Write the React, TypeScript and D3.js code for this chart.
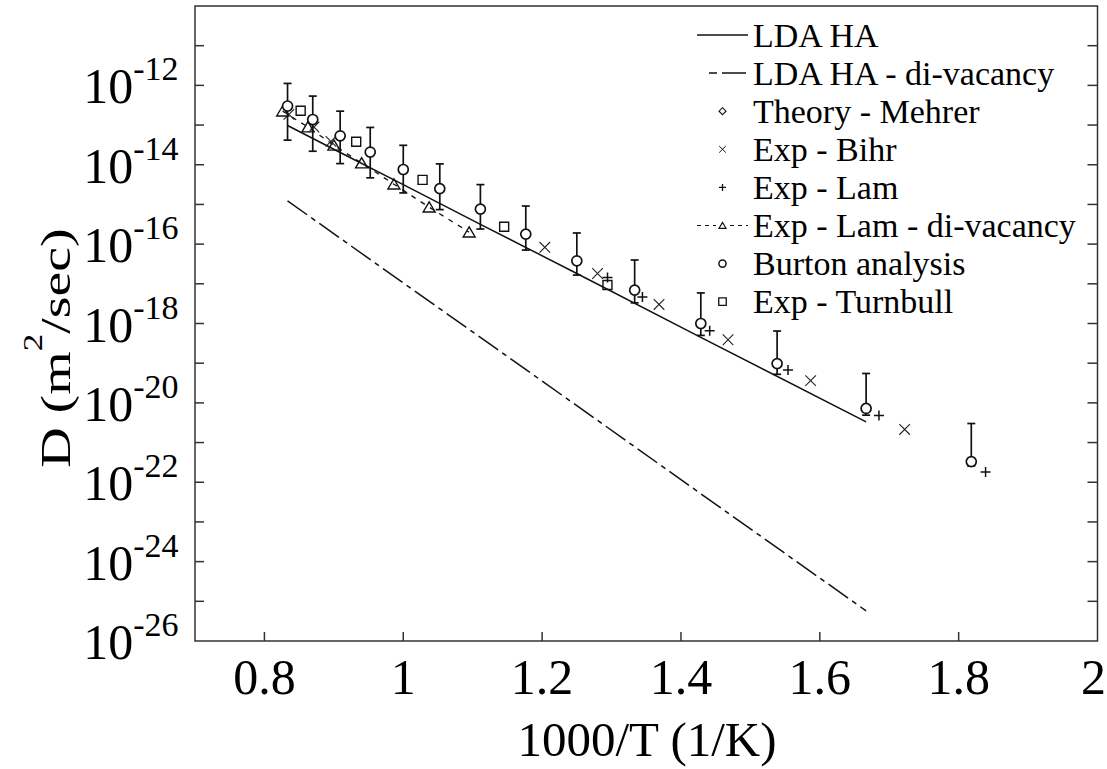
import React from 'react';
import * as d3 from 'd3';

// 1000/T values (1/K)
const modelX = [0.8333, 0.9091, 1.0, 1.1111, 1.25, 1.4286, 1.6667];
const ldaHA = [9.77e-14, 2.04e-14, 3.16e-15, 3.16e-16, 1.82e-17, 4.47e-19, 3.31e-21];
const ldaHADiVac = [1.23e-15, 1.41e-16, 1.05e-17, 4.47e-19, 8.51e-21, 5.13e-23, 5.75e-26];

const lamDiVacX = [0.8263, 0.8627, 0.9001, 0.94, 0.9865, 1.0373, 1.0949];
const lamDiVac = [2.24e-13, 8.91e-14, 3.09e-14, 1.1e-14, 3.24e-15, 8.51e-16, 2.0e-16];

const burtonX = [0.8333, 0.8696, 0.9091, 0.9524, 1.0, 1.0526, 1.1111, 1.1765, 1.25, 1.3333, 1.4286, 1.5385, 1.6667, 1.8182];
const burton = [3.02e-13, 1.38e-13, 5.37e-14, 2.09e-14, 7.59e-15, 2.51e-15, 7.59e-16, 1.78e-16, 3.8e-17, 6.92e-18, 1.0e-18, 9.77e-20, 7.24e-21, 3.31e-22];
const burtonHi = [1.12e-12, 5.37e-13, 2.24e-13, 8.71e-14, 3.09e-14, 1.05e-14, 3.16e-15, 9.12e-16, 1.91e-16, 3.98e-17, 5.89e-18, 6.46e-19, 5.5e-20, 3.02e-21];
const burtonLo = [4.17e-14, 2.19e-14, 1.07e-14, 4.68e-15, 1.95e-15, 7.41e-16, 2.4e-16, 7.08e-17, 1.66e-17, 3.31e-18, 5.01e-19, 5.25e-20, 4.9e-21, 2.57e-22];

const turnbullX = [0.8522, 0.9322, 1.0278, 1.1453, 1.2941];
const turnbull = [2.29e-13, 3.8e-14, 4.17e-15, 2.75e-16, 9.33e-18];

const bihrX = [0.8353, 0.8713, 0.8958, 1.2039, 1.2798, 1.3684, 1.4678, 1.5868, 1.7222];
const bihr = [1.86e-13, 8.91e-14, 3.89e-14, 8.32e-17, 1.82e-17, 3.02e-18, 3.89e-19, 3.63e-20, 2.14e-21];

const lamX = [1.2942, 1.3445, 1.4414, 1.5542, 1.6852, 1.8388];
const lam = [1.45e-17, 4.68e-18, 6.61e-19, 6.76e-20, 4.79e-21, 1.82e-22];

const xTicks = [0.8, 1, 1.2, 1.4, 1.6, 1.8, 2];
const yTickExps = d3.range(-25, -10);
const yLabelExps = [-12, -14, -16, -18, -20, -22, -24, -26];

const legendLabels = [
  'LDA HA',
  'LDA HA - di-vacancy',
  'Theory - Mehrer',
  'Exp - Bihr',
  'Exp - Lam',
  'Exp - Lam - di-vacancy',
  'Burton analysis',
  'Exp - Turnbull',
];

const FONT = '"Liberation Serif", "Times New Roman", serif';
const W = 1107;
const H = 769;
const L = 195, R = 1097.5, T = 6, B = 641;

const x = d3.scaleLinear().domain([0.7, 2.0]).range([L, R]);
const y = d3.scaleLog().domain([1e-26, 1e-10]).range([B, T]);

const tri = (cx: number, cy: number, s: number) =>
  `M${cx - s / 2},${cy + s * 0.4}L${cx + s / 2},${cy + s * 0.4}L${cx},${cy - s * 0.45}Z`;
const sq = (cx: number, cy: number, s: number) =>
  `M${cx - s / 2},${cy - s / 2}h${s}v${s}h${-s}Z`;
const times = (cx: number, cy: number, s: number) =>
  `M${cx - s},${cy - s}L${cx + s},${cy + s}M${cx - s},${cy + s}L${cx + s},${cy - s}`;
const plus = (cx: number, cy: number, s: number) =>
  `M${cx - s},${cy}L${cx + s},${cy}M${cx},${cy - s}L${cx},${cy + s}`;
const diamond = (cx: number, cy: number, s: number) =>
  `M${cx},${cy - s}L${cx + s},${cy}L${cx},${cy + s}L${cx - s},${cy}Z`;

export default function App() {
  const line = d3
    .line<number>()
    .x((_, i) => x(modelX[i]))
    .y((d) => y(d));
  const lamLine = d3
    .line<number>()
    .x((_, i) => x(lamDiVacX[i]))
    .y((d) => y(d));

  const legX0 = 697, legX1 = 748, legMid = 722.5, legText = 753;
  const legY = (i: number) => 35 + i * 38.1;

  return (
    <div style={{ position: 'absolute', left: 0, top: 0 }}>
      <svg width={W} height={H} style={{ display: 'block', background: '#fff' }} fontFamily={FONT}>
        <rect x={0} y={0} width={W} height={H} fill="#fff" />

        {/* model lines */}
        <path d={line(ldaHA) || ''} fill="none" stroke="#111" strokeWidth={1.5} />
        <path d={line(ldaHADiVac) || ''} fill="none" stroke="#111" strokeWidth={1.5} strokeDasharray="24,5,5,5" />
        <path d={lamLine(lamDiVac) || ''} fill="none" stroke="#111" strokeWidth={1.3} strokeDasharray="5,6" />

        {/* Lam di-vacancy triangles */}
        {lamDiVac.map((d, i) => (
          <path key={'t' + i} d={tri(x(lamDiVacX[i]), y(d), 12)} fill="none" stroke="#111" strokeWidth={1.4} />
        ))}

        {/* Turnbull squares */}
        {turnbull.map((d, i) => (
          <path key={'s' + i} d={sq(x(turnbullX[i]), y(d), 9)} fill="none" stroke="#111" strokeWidth={1.4} />
        ))}

        {/* Bihr crosses */}
        {bihr.map((d, i) => (
          <path key={'x' + i} d={times(x(bihrX[i]), y(d), 5.3)} fill="none" stroke="#222" strokeWidth={1.1} />
        ))}

        {/* Lam plus */}
        {lam.map((d, i) => (
          <path key={'p' + i} d={plus(x(lamX[i]), y(d), 5)} fill="none" stroke="#111" strokeWidth={1.5} />
        ))}

        {/* Burton error bars + circles */}
        {burton.map((d, i) => {
          const cx = x(burtonX[i]);
          return (
            <g key={'b' + i} stroke="#111" strokeWidth={1.7} fill="none">
              <line x1={cx} x2={cx} y1={y(burtonHi[i])} y2={y(burtonLo[i])} />
              <line x1={cx - 4} x2={cx + 4} y1={y(burtonHi[i])} y2={y(burtonHi[i])} />
              <line x1={cx - 4} x2={cx + 4} y1={y(burtonLo[i])} y2={y(burtonLo[i])} />
              <circle cx={cx} cy={y(d)} r={5} fill="#fff" />
            </g>
          );
        })}

        {/* frame */}
        <rect x={L} y={T} width={R - L} height={B - T} fill="none" stroke="#333" strokeWidth={1.5} />

        {/* y ticks, both sides */}
        {yTickExps.map((e) => {
          const yy = y(Math.pow(10, e));
          return (
            <g key={'yt' + e} stroke="#333" strokeWidth={1.5}>
              <line x1={L} x2={L + 9} y1={yy} y2={yy} />
              <line x1={R - 10} x2={R} y1={yy} y2={yy} />
            </g>
          );
        })}
        {yLabelExps.map((e) => {
          const yy = y(Math.pow(10, e));
          return (
            <text key={'yl' + e} x={178.5} y={yy + 18} textAnchor="end" fontSize={50} fill="#000">
              10
              <tspan fontSize={34} dy={-23}>{String(e)}</tspan>
            </text>
          );
        })}

        {/* x ticks */}
        {xTicks.slice(0, -1).map((v) => (
          <line key={'xt' + v} x1={x(v)} x2={x(v)} y1={B} y2={B - 9} stroke="#333" strokeWidth={1.5} />
        ))}
        {xTicks.map((v, i) => (
          <text
            key={'xl' + v}
            x={i === xTicks.length - 1 ? W - 1 : x(v)}
            y={694}
            textAnchor={i === xTicks.length - 1 ? 'end' : 'middle'}
            fontSize={50}
            fill="#000"
          >
            {String(v)}
          </text>
        ))}

        {/* axis titles */}
        <text x={647} y={756} textAnchor="middle" fontSize={49} fill="#000">
          1000/T (1/K)
        </text>
        <g transform="translate(70,348) rotate(-90) scale(1.3,1)">
          <text x={0} y={0} textAnchor="middle" fontSize={43} fill="#000">
            D (m<tspan fontSize={27} dy={-28}>2</tspan>
            <tspan dy={28}>/sec)</tspan>
          </text>
        </g>

        {/* legend */}
        <g stroke="#111" fill="none">
          <line x1={legX0} x2={legX1} y1={legY(0)} y2={legY(0)} strokeWidth={1.5} />
          <line x1={709} x2={746} y1={legY(1)} y2={legY(1)} strokeWidth={1.5} strokeDasharray="8,5,24,5" />
          <path d={diamond(legMid, legY(2), 3.5)} strokeWidth={1.1} />
          <path d={times(legMid, legY(3), 3.3)} strokeWidth={1} />
          <path d={plus(legMid, legY(4), 3.5)} strokeWidth={1.3} />
          <line x1={legX0} x2={716} y1={legY(5)} y2={legY(5)} strokeWidth={1.2} strokeDasharray="4,4" />
          <line x1={730} x2={legX1} y1={legY(5)} y2={legY(5)} strokeWidth={1.2} strokeDasharray="4,4" />
          <path d={tri(legMid, legY(5), 7)} strokeWidth={1.2} />
          <circle cx={legMid} cy={legY(6)} r={3.6} strokeWidth={1.5} />
          <path d={sq(legMid, legY(7), 7.5)} strokeWidth={1.3} />
        </g>
        {legendLabels.map((t, i) => (
          <text key={'lg' + i} x={legText} y={legY(i) + 11.7} fontSize={34} fill="#000">
            {t}
          </text>
        ))}
      </svg>
    </div>
  );
}
